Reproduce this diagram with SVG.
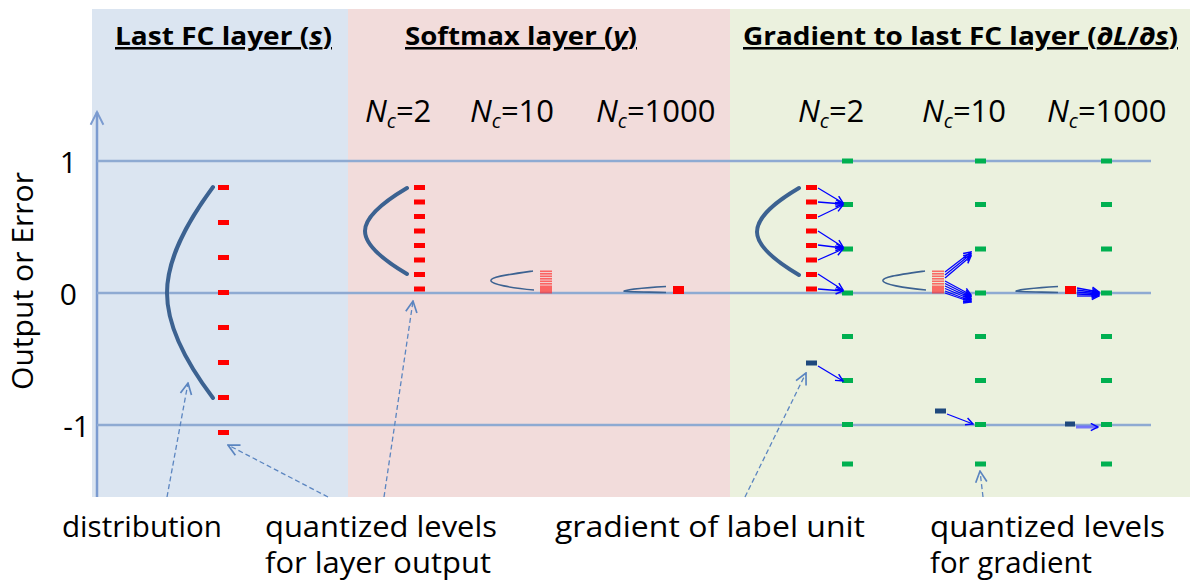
<svg xmlns="http://www.w3.org/2000/svg" width="1196" height="587" viewBox="0 0 1196 587">
  <style>
    .title { font-family: "Open Sans", "Liberation Sans", sans-serif; font-size: 25px; font-weight: bold; fill: #000; text-decoration: underline; }
    .nc { font-family: "Open Sans", "Liberation Sans", sans-serif; font-size: 31px; fill: #000; }
    .it { font-style: italic; }
    .sub { font-size: 20px; font-style: italic; }
    .lbl { font-family: "Open Sans", "Liberation Sans", sans-serif; font-size: 29px; fill: #000; }
    .axlbl { font-family: "Open Sans", "Liberation Sans", sans-serif; font-size: 30px; fill: #000; }
    .grid { stroke: #8eaad2; stroke-width: 2.5; fill: none; }
    .curve { stroke: #3c6291; stroke-width: 4; fill: none; stroke-linecap: round; }
    .thin { stroke: #3c6291; stroke-width: 1.6; fill: none; }
    .red { fill: #ff0000; }
    .grn { fill: #00b050; }
    .dkb { fill: #1f497d; }
    .ba { stroke: #0000ff; stroke-width: 1.3; fill: none; marker-end: url(#ah); }
    .da { stroke: #5b85c0; stroke-width: 1.3; stroke-dasharray: 5 3; fill: none; marker-end: url(#dh); }
  </style>
  <defs>
    <marker id="ah" viewBox="0 0 10 10" refX="9" refY="5" markerWidth="9" markerHeight="9" markerUnits="userSpaceOnUse" orient="auto">
      <path d="M1,1 L9,5 L1,9" fill="none" stroke="#0000ff" stroke-width="1.6"/>
    </marker>
    <marker id="dh" viewBox="0 0 10 10" refX="9" refY="5" markerWidth="14" markerHeight="14" markerUnits="userSpaceOnUse" orient="auto">
      <path d="M1,1 L9,5 L1,9" fill="none" stroke="#5b85c0" stroke-width="1.2"/>
    </marker>
    <marker id="axh" viewBox="0 0 10 10" refX="9" refY="5" markerWidth="16" markerHeight="16" markerUnits="userSpaceOnUse" orient="auto">
      <path d="M1,1 L9,5 L1,9" fill="none" stroke="#7b9bd0" stroke-width="1.2"/>
    </marker>
  </defs>

  <rect width="1196" height="587" fill="#ffffff"/>

  <g id="panels">
    <rect x="92" y="9" width="256" height="488" fill="#dbe5f1"/>
    <rect x="348" y="9" width="382" height="488" fill="#f2dcdb"/>
    <rect x="730" y="9" width="460" height="488" fill="#ebf1de"/>
  </g>

  <g id="titles">
    <text class="title" x="115" y="45" textLength="217" lengthAdjust="spacingAndGlyphs">Last FC layer (<tspan class="it">s</tspan>)</text>
    <text class="title" x="405" y="45" textLength="232" lengthAdjust="spacingAndGlyphs">Softmax layer (<tspan class="it">y</tspan>)</text>
    <text class="title" x="743" y="45" textLength="435" lengthAdjust="spacingAndGlyphs">Gradient to last FC layer (<tspan class="it">∂L</tspan>/<tspan class="it">∂s</tspan>)</text>
  </g>

  <g id="nc-labels">
    <text class="nc" x="365" y="122"><tspan class="it">N</tspan><tspan class="sub" dy="6">c</tspan><tspan dy="-6">=2</tspan></text>
    <text class="nc" x="470" y="122"><tspan class="it">N</tspan><tspan class="sub" dy="6">c</tspan><tspan dy="-6">=10</tspan></text>
    <text class="nc" x="596" y="122"><tspan class="it">N</tspan><tspan class="sub" dy="6">c</tspan><tspan dy="-6">=1000</tspan></text>
    <text class="nc" x="798" y="122"><tspan class="it">N</tspan><tspan class="sub" dy="6">c</tspan><tspan dy="-6">=2</tspan></text>
    <text class="nc" x="922" y="122"><tspan class="it">N</tspan><tspan class="sub" dy="6">c</tspan><tspan dy="-6">=10</tspan></text>
    <text class="nc" x="1047" y="122"><tspan class="it">N</tspan><tspan class="sub" dy="6">c</tspan><tspan dy="-6">=1000</tspan></text>
  </g>

  <g id="axes">
    <line x1="97" y1="497" x2="97" y2="112" stroke="#7b9bd0" stroke-width="2.5" marker-end="url(#axh)"/>
    <line class="grid" x1="97" y1="161" x2="1151" y2="161"/>
    <line class="grid" x1="97" y1="293" x2="1151" y2="293"/>
    <line class="grid" x1="97" y1="425" x2="1151" y2="425"/>
    <text class="axlbl" x="77" y="173" text-anchor="end">1</text>
    <text class="axlbl" x="77" y="305" text-anchor="end">0</text>
    <text class="axlbl" x="90" y="437" text-anchor="end">-1</text>
    <text class="axlbl" transform="translate(33,281) rotate(-90)" text-anchor="middle" font-size="29" textLength="218" lengthAdjust="spacingAndGlyphs">Output or Error</text>
  </g>

  <g id="last-fc">
    <path class="curve" d="M213,187 C185,225 167,260 167,293 C167,326 185,361 213,398"/>
    <rect class="red" x="218" y="185" width="11" height="5"/>
    <rect class="red" x="218" y="220" width="11" height="5"/>
    <rect class="red" x="218" y="255" width="11" height="5"/>
    <rect class="red" x="218" y="290" width="11" height="5"/>
    <rect class="red" x="218" y="325" width="11" height="5"/>
    <rect class="red" x="218" y="360" width="11" height="5"/>
    <rect class="red" x="218" y="395" width="11" height="5"/>
    <rect class="red" x="218" y="430" width="11" height="5"/>
  </g>

  <g id="softmax-nc2">
    <path class="curve" d="M407,188 C385,201 365,216 365,231 C365,246 385,261 407,274"/>
    <rect class="red" x="414" y="185" width="11" height="5"/>
    <rect class="red" x="414" y="199.5" width="11" height="5"/>
    <rect class="red" x="414" y="214" width="11" height="5"/>
    <rect class="red" x="414" y="228.5" width="11" height="5"/>
    <rect class="red" x="414" y="243" width="11" height="5"/>
    <rect class="red" x="414" y="257.5" width="11" height="5"/>
    <rect class="red" x="414" y="272" width="11" height="5"/>
    <rect class="red" x="414" y="286.5" width="11" height="5"/>
  </g>

  <g id="softmax-nc10">
    <path class="thin" d="M533,271 C505,275 490,277 491,281 C492,284 510,288 534,290"/>
    <g fill="#ff3030" fill-opacity="0.7">
      <rect x="540" y="270.5" width="12" height="1.6"/>
      <rect x="540" y="273" width="12" height="1.6"/>
      <rect x="540" y="275.5" width="12" height="1.6"/>
      <rect x="540" y="278" width="12" height="1.6"/>
      <rect x="540" y="280.5" width="12" height="1.6"/>
      <rect x="540" y="283" width="12" height="1.6"/>
      <rect x="540" y="285.5" width="12" height="8"/>
    </g>
  </g>

  <g id="softmax-nc1000">
    <path class="thin" d="M666,286.5 C640,288 624,290 624,291 C626,292 650,292 666,292.5"/>
    <rect class="red" x="673" y="286" width="11" height="8"/>
  </g>

  <g id="grad-levels">
    <g class="grn">
      <rect x="842" y="158.5" width="11" height="5"/>
      <rect x="842" y="202" width="11" height="5"/>
      <rect x="842" y="246.5" width="11" height="5"/>
      <rect x="842" y="290.5" width="11" height="5"/>
      <rect x="842" y="334" width="11" height="5"/>
      <rect x="842" y="378" width="11" height="5"/>
      <rect x="842" y="422" width="11" height="5"/>
      <rect x="842" y="461.5" width="11" height="5"/>

      <rect x="975" y="158.5" width="11" height="5"/>
      <rect x="975" y="202" width="11" height="5"/>
      <rect x="975" y="246.5" width="11" height="5"/>
      <rect x="975" y="290.5" width="11" height="5"/>
      <rect x="975" y="334" width="11" height="5"/>
      <rect x="975" y="378" width="11" height="5"/>
      <rect x="975" y="422" width="11" height="5"/>
      <rect x="975" y="461.5" width="11" height="5"/>

      <rect x="1101" y="158.5" width="11" height="5"/>
      <rect x="1101" y="202" width="11" height="5"/>
      <rect x="1101" y="246.5" width="11" height="5"/>
      <rect x="1101" y="290.5" width="11" height="5"/>
      <rect x="1101" y="334" width="11" height="5"/>
      <rect x="1101" y="378" width="11" height="5"/>
      <rect x="1101" y="422" width="11" height="5"/>
      <rect x="1101" y="461.5" width="11" height="5"/>
    </g>
  </g>

  <g id="grad-nc2">
    <path class="curve" d="M799,188 C777,201 757,216 757,232 C757,247 777,262 799,275"/>
    <rect class="red" x="806" y="185" width="11" height="5"/>
    <rect class="red" x="806" y="199.5" width="11" height="5"/>
    <rect class="red" x="806" y="214" width="11" height="5"/>
    <rect class="red" x="806" y="228.5" width="11" height="5"/>
    <rect class="red" x="806" y="243" width="11" height="5"/>
    <rect class="red" x="806" y="257.5" width="11" height="5"/>
    <rect class="red" x="806" y="272" width="11" height="5"/>
    <rect class="red" x="806" y="286.5" width="11" height="5"/>
    <rect class="dkb" x="806" y="360.5" width="11" height="5"/>
  </g>

  <g id="grad-nc10">
    <path class="thin" d="M925,271 C897,275 882,277 883,281 C884,284 902,288 926,290"/>
    <g fill="#ff3030" fill-opacity="0.7">
      <rect x="932" y="270.5" width="12" height="1.6"/>
      <rect x="932" y="273" width="12" height="1.6"/>
      <rect x="932" y="275.5" width="12" height="1.6"/>
      <rect x="932" y="278" width="12" height="1.6"/>
      <rect x="932" y="280.5" width="12" height="1.6"/>
      <rect x="932" y="283" width="12" height="1.6"/>
      <rect x="932" y="285.5" width="12" height="8"/>
    </g>
    <rect class="dkb" x="935" y="408.5" width="11" height="5"/>
  </g>

  <g id="grad-nc1000">
    <path class="thin" d="M1058,286.5 C1032,288 1016,290 1016,291 C1018,292 1042,292 1058,292.5"/>
    <rect class="red" x="1065" y="286" width="11" height="8"/>
    <rect class="dkb" x="1065" y="421.5" width="10" height="5"/>
  </g>

  <g id="connectors">
    <line class="ba" x1="818" y1="188" x2="843" y2="203"/>
    <line class="ba" x1="818" y1="202" x2="843" y2="204"/>
    <line class="ba" x1="818" y1="217" x2="843" y2="205"/>
    <line class="ba" x1="818" y1="231" x2="843" y2="247"/>
    <line class="ba" x1="818" y1="245" x2="843" y2="248"/>
    <line class="ba" x1="818" y1="260" x2="843" y2="249"/>
    <line class="ba" x1="818" y1="274" x2="843" y2="290"/>
    <line class="ba" x1="818" y1="289" x2="843" y2="291"/>
    <line class="ba" x1="818" y1="366" x2="843" y2="381"/>
    <line class="ba" x1="945" y1="272" x2="971" y2="252"/>
    <line class="ba" x1="945" y1="275" x2="971" y2="254"/>
    <line class="ba" x1="945" y1="278" x2="971" y2="256"/>
    <line class="ba" x1="945" y1="281" x2="971" y2="295"/>
    <line class="ba" x1="945" y1="283.5" x2="971" y2="296.5"/>
    <line class="ba" x1="945" y1="286" x2="971" y2="298"/>
    <line class="ba" x1="945" y1="288.5" x2="971" y2="299.5"/>
    <line class="ba" x1="945" y1="291" x2="971" y2="301"/>
    <line class="ba" x1="945" y1="293" x2="971" y2="302"/>
    <line class="ba" x1="947" y1="414" x2="973" y2="424"/>
    <line class="ba" x1="1077" y1="288" x2="1099" y2="292"/>
    <line class="ba" x1="1077" y1="290" x2="1099" y2="293"/>
    <line class="ba" x1="1077" y1="292" x2="1099" y2="294"/>
    <line class="ba" x1="1077" y1="294" x2="1099" y2="295"/>
    <line class="ba" x1="1077" y1="296" x2="1099" y2="296"/>
    <line x1="1076" y1="427" x2="1098" y2="427" stroke="#5a5aff" stroke-width="3" stroke-opacity="0.8" marker-end="url(#ah)"/>
    <line class="da" x1="167" y1="497" x2="188" y2="383"/>
    <line class="da" x1="328" y1="497" x2="228" y2="445"/>
    <line class="da" x1="384" y1="497" x2="413" y2="301"/>
    <line class="da" x1="745" y1="497" x2="806" y2="373"/>
    <line class="da" x1="983" y1="497" x2="980" y2="471"/>
  </g>

  <g id="bottom-labels">
    <text class="lbl" x="62" y="537" textLength="160" lengthAdjust="spacingAndGlyphs">distribution</text>
    <text class="lbl" x="265" y="537" textLength="232" lengthAdjust="spacingAndGlyphs">quantized levels</text>
    <text class="lbl" x="265" y="573" textLength="226" lengthAdjust="spacingAndGlyphs">for layer output</text>
    <text class="lbl" x="555" y="537" textLength="310" lengthAdjust="spacingAndGlyphs">gradient of label unit</text>
    <text class="lbl" x="930" y="537" textLength="235" lengthAdjust="spacingAndGlyphs">quantized levels</text>
    <text class="lbl" x="930" y="573" textLength="162" lengthAdjust="spacingAndGlyphs">for gradient</text>
  </g>
</svg>
